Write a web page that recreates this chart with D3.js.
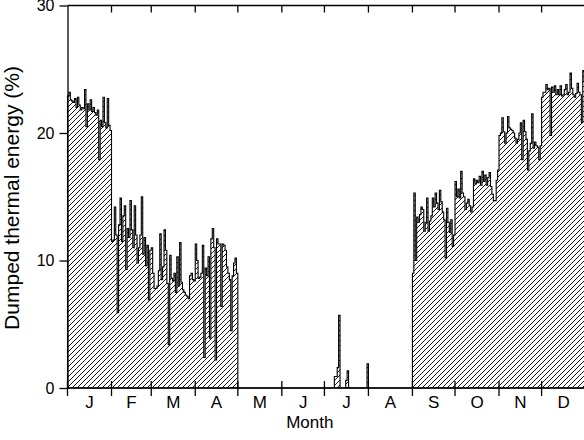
<!DOCTYPE html>
<html>
<head>
<meta charset="utf-8">
<script src="https://cdn.jsdelivr.net/npm/d3@7"></script>
<style>
  html, body { margin: 0; padding: 0; background: #fff; }
  svg { display: block; font-family: "Liberation Sans", Arial, sans-serif; }
</style>
</head>
<body>
<svg id="chart" width="584" height="440"></svg>
<script>
// Daily dumped thermal energy (% of collected), one array per month
const jan = [22.9, 23.2, 22.6, 22.5, 22.4, 22.7, 22.0, 22.8, 22.2, 21.8, 22.0, 21.9, 23.4, 20.5, 22.3, 21.8,
             22.6, 21.7, 22.0, 21.6, 21.4, 21.8, 17.9, 21.0, 20.5, 22.8, 20.8, 20.4, 22.7, 20.6, 20.2];
const feb = [11.5, 11.6, 14.2, 12.0, 5.9, 12.8, 14.9, 11.5, 13.5, 14.3, 9.3, 12.5, 11.8, 14.7,
             12.4, 11.0, 14.3, 12.0, 9.8, 11.0, 12.0, 15.0, 10.5, 11.8, 9.6, 11.2, 6.9, 10.8];
const mar = [11.0, 9.0, 7.8, 7.8, 8.0, 9.2, 12.1, 8.5, 9.5, 12.4, 10.8, 8.2, 3.4, 10.4, 8.6, 8.4,
             9.0, 7.5, 10.3, 8.0, 11.4, 8.3, 7.7, 7.5, 7.3, 7.2, 7.0, 8.8, 9.0, 8.5, 8.4];
const apr = [11.3, 10.0, 8.6, 8.7, 9.0, 11.2, 2.4, 9.4, 8.8, 10.3, 3.9, 11.7, 12.5, 11.0, 2.2,
             11.7, 11.3, 11.3, 6.4, 11.3, 11.2, 10.8, 9.5, 9.0, 8.5, 4.5, 8.8, 9.8, 10.2, 9.0];
const may = [0, 0, 0, 0, 0, 0, 0, 0, 0, 0, 0, 0, 0, 0, 0, 0,
             0, 0, 0, 0, 0, 0, 0, 0, 0, 0, 0, 0, 0, 0, 0];
const jun = [0, 0, 0, 0, 0, 0, 0, 0, 0, 0, 0, 0, 0, 0, 0,
             0, 0, 0, 0, 0, 0, 0, 0, 0, 0, 0, 0, 0, 0, 0];
const jul = [0, 0, 0, 0, 0, 0, 0, 0.9, 0.9, 1.6, 5.7, 0, 0, 0, 0, 0.6,
             1.35, 0, 0, 0, 0, 0, 0, 0, 0, 0, 0, 0, 0, 0, 1.9];
const aug = [0, 0, 0, 0, 0, 0, 0, 0, 0, 0, 0, 0, 0, 0, 0, 0,
             0, 0, 0, 0, 0, 0, 0, 0, 0, 0, 0, 0, 0, 0, 0];
const sep = [9.0, 15.3, 10.0, 13.4, 13.0, 13.6, 14.2, 14.0, 12.3, 13.0, 14.9, 12.3, 13.1, 13.5, 14.9,
             14.2, 15.3, 14.5, 14.0, 15.5, 14.6, 13.8, 13.2, 10.2, 14.1, 13.0, 12.2, 13.2, 11.1, 12.0];
const oct = [16.2, 15.0, 15.6, 14.9, 17.0, 15.3, 15.0, 14.0, 14.5, 14.8, 14.3, 13.8, 14.2, 16.4, 16.0, 16.3,
             16.1, 16.6, 15.9, 17.0, 16.2, 16.7, 15.9, 16.5, 16.9, 15.8, 15.2, 14.7, 14.7, 16.3, 17.1];
const nov = [19.8, 20.0, 21.2, 20.1, 19.2, 20.0, 21.3, 20.4, 20.3, 20.2, 20.0, 19.6, 19.2, 19.5, 20.0,
             20.8, 17.9, 21.0, 20.1, 19.5, 17.1, 18.6, 19.2, 21.5, 18.8, 19.3, 19.0, 18.9, 17.9, 19.0];
const dec = [22.8, 23.2, 23.2, 23.8, 23.4, 23.5, 19.8, 23.6, 23.2, 23.7, 23.0, 23.4, 23.0, 23.7, 22.9, 23.0,
             23.4, 23.8, 23.0, 23.2, 24.7, 23.5, 23.0, 22.8, 23.1, 23.9, 23.2, 23.0, 20.8, 24.9, 24.0];

const monthLabels = ["J", "F", "M", "A", "M", "J", "J", "A", "S", "O", "N", "D"];
const yTicks = [0, 10, 20, 30];

const months = [jan, feb, mar, apr, may, jun, jul, aug, sep, oct, nov, dec];
const daily = months.flat();
const nDays = daily.length;

// day-of-year at which each month starts (plus year end)
const monthStarts = [0];
months.forEach(m => monthStarts.push(monthStarts[monthStarts.length - 1] + m.length));

const svg = d3.select("#chart");
const x = d3.scaleLinear().domain([0, nDays]).range([67.5, 585.6]);
const y = d3.scaleLinear().domain([0, 30]).range([388, 5.5]);

// diagonal hatching for the area fill
const defs = svg.append("defs");
defs.append("pattern")
  .attr("id", "hatch")
  .attr("patternUnits", "userSpaceOnUse")
  .attr("width", 5).attr("height", 5)
  .append("path")
  .attr("d", "M-1,1 l2,-2 M0,5 l5,-5 M4,6 l2,-2")
  .attr("stroke", "#000")
  .attr("stroke-width", 0.9)
  .attr("fill", "none");

// step series: one value per day, last value carried to the year end
const pts = daily.map((v, i) => [i, v]);
pts.push([nDays, daily[nDays - 1]]);

const area = d3.area()
  .curve(d3.curveStepAfter)
  .x(d => x(d[0]))
  .y0(y(0))
  .y1(d => y(d[1]));

svg.append("path")
  .datum(pts)
  .attr("d", area)
  .attr("fill", "url(#hatch)")
  .attr("stroke", "#000")
  .attr("stroke-width", 1.1)
  .attr("stroke-linejoin", "miter");

// left axis
const yAxis = d3.axisLeft(y).tickValues(yTicks).tickSize(8).tickPadding(5).tickSizeOuter(0);
const gy = svg.append("g").attr("transform", `translate(${x(0)},0)`).call(yAxis);
gy.select(".domain").attr("stroke", "#000").attr("stroke-width", 1.3);
gy.selectAll(".tick line").attr("stroke", "#000").attr("stroke-width", 1.3);
gy.selectAll(".tick text").attr("font-size", 16).attr("fill", "#000")
  .attr("font-family", "'Liberation Sans', Arial, sans-serif");

// bottom axis: month boundaries with ticks crossing the axis line
const gx = svg.append("g");
gx.append("line")
  .attr("x1", x(0)).attr("x2", 584)
  .attr("y1", y(0)).attr("y2", y(0))
  .attr("stroke", "#000").attr("stroke-width", 1.3);
gx.selectAll("line.mtick")
  .data(monthStarts.slice(0, 12))
  .join("line")
  .attr("class", "mtick")
  .attr("x1", d => x(d)).attr("x2", d => x(d))
  .attr("y1", y(0) - 7).attr("y2", y(0) + 8)
  .attr("stroke", "#000").attr("stroke-width", 1.3);
gx.selectAll("text.mlabel")
  .data(monthLabels)
  .join("text")
  .attr("class", "mlabel")
  .attr("x", (d, i) => x((monthStarts[i] + monthStarts[i + 1]) / 2))
  .attr("y", 408)
  .attr("text-anchor", "middle")
  .attr("font-size", 17)
  .text(d => d);

// top frame line with month ticks pointing inward
const gt = svg.append("g");
gt.append("line")
  .attr("x1", x(0)).attr("x2", 584)
  .attr("y1", y(30)).attr("y2", y(30))
  .attr("stroke", "#000").attr("stroke-width", 1.3);
gt.selectAll("line.ttick")
  .data(monthStarts.slice(1, 12))
  .join("line")
  .attr("class", "ttick")
  .attr("x1", d => x(d)).attr("x2", d => x(d))
  .attr("y1", y(30)).attr("y2", y(30) + 7)
  .attr("stroke", "#000").attr("stroke-width", 1.3);

// axis titles
svg.append("text")
  .attr("x", (x(0) + 584) / 2 - 16)
  .attr("y", 428)
  .attr("text-anchor", "middle")
  .attr("font-size", 17)
  .text("Month");

svg.append("text")
  .attr("transform", `translate(19,${198}) rotate(-90)`)
  .attr("text-anchor", "middle")
  .attr("font-size", 21)
  .text("Dumped thermal energy (%)");
</script>
</body>
</html>
